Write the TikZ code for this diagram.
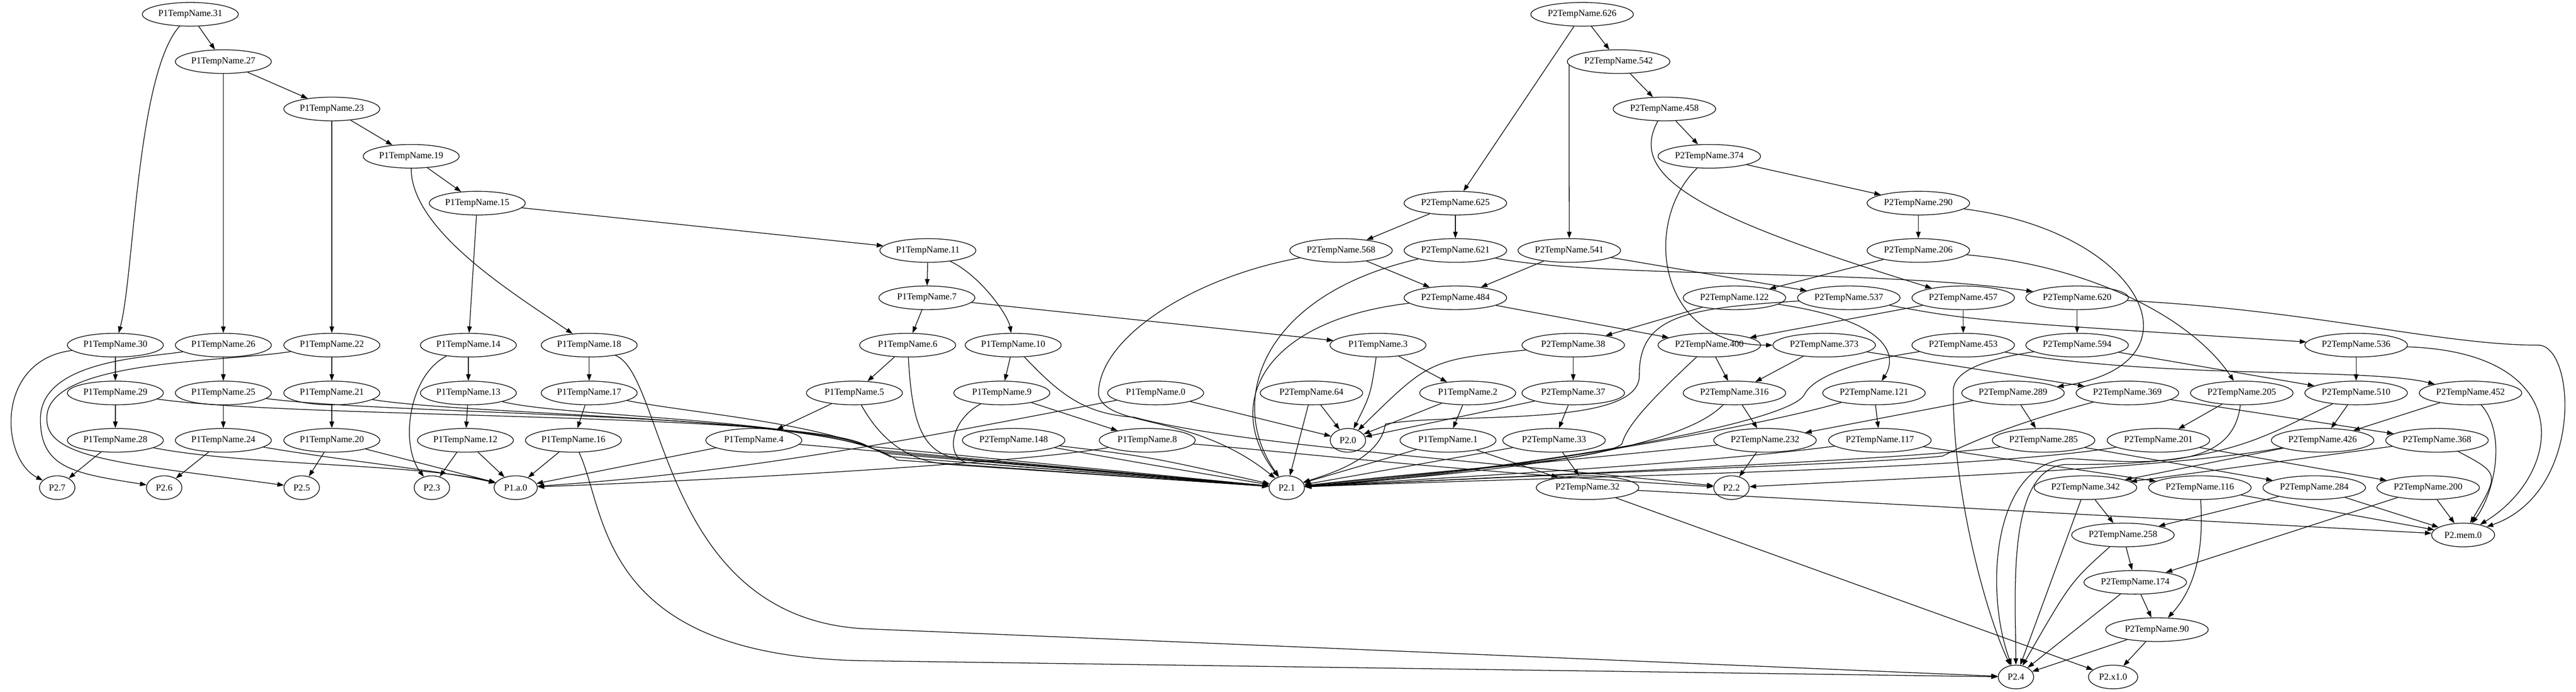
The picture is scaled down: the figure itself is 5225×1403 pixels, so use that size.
\documentclass[tikz,border=0pt]{standalone}
\usepackage{fontspec}
\setmainfont{Liberation Serif}
\usetikzlibrary{shapes.geometric,arrows.meta}
\begin{document}
\begin{tikzpicture}[x=0.75pt,y=-0.75pt,
  base/.style={draw, ellipse, line width=1pt, minimum height=36pt, inner sep=0pt, font=\fontsize{14pt}{16pt}\selectfont},
  n1/.style={base, minimum width=146pt},
  n2/.style={base, minimum width=156pt},
  nc/.style={base, minimum width=54pt},
  e/.style={-{Triangle[length=10pt,width=7pt]}, line width=1pt}]
\fill[white] (0,0) rectangle (5225,1403);
\useasboundingbox (0,0) rectangle (5225,1403);

% ---------- P1 nodes ----------
\node[n1] (a31) at (386,29) {P1TempName.31};
\node[n1] (a27) at (453,125) {P1TempName.27};
\node[n1] (a23) at (673,221) {P1TempName.23};
\node[n1] (a19) at (834,317) {P1TempName.19};
\node[n1] (a15) at (968,412) {P1TempName.15};
\node[n1] (a11) at (1882,508) {P1TempName.11};
\node[n1] (a7) at (1880,604) {P1TempName.7};
\node[n1] (a30) at (234,700) {P1TempName.30};
\node[n1] (a26) at (453,700) {P1TempName.26};
\node[n1] (a22) at (673,700) {P1TempName.22};
\node[n1] (a14) at (950,700) {P1TempName.14};
\node[n1] (a18) at (1195,700) {P1TempName.18};
\node[n1] (a6) at (1841,700) {P1TempName.6};
\node[n1] (a10) at (2055,700) {P1TempName.10};
\node[n1] (a3) at (2795,700) {P1TempName.3};
\node[n1] (a29) at (234,797) {P1TempName.29};
\node[n1] (a25) at (453,797) {P1TempName.25};
\node[n1] (a21) at (673,797) {P1TempName.21};
\node[n1] (a13) at (950,797) {P1TempName.13};
\node[n1] (a17) at (1195,797) {P1TempName.17};
\node[n1] (a5) at (1733,797) {P1TempName.5};
\node[n1] (a9) at (2032,797) {P1TempName.9};
\node[n1] (a0) at (2344,797) {P1TempName.0};
\node[n1] (a2) at (2977,797) {P1TempName.2};
\node[n1] (a28) at (234,893) {P1TempName.28};
\node[n1] (a24) at (453,893) {P1TempName.24};
\node[n1] (a20) at (673,893) {P1TempName.20};
\node[n1] (a12) at (944,893) {P1TempName.12};
\node[n1] (a16) at (1163,893) {P1TempName.16};
\node[n1] (a4) at (1529,893) {P1TempName.4};
\node[n1] (a8) at (2327,893) {P1TempName.8};
\node[n1] (a1) at (2937,893) {P1TempName.1};

% ---------- P2 nodes ----------
\node[n2] (b148) at (2056,893) {P2TempName.148};
\node[n2] (b626) at (3209,29) {P2TempName.626};
\node[n2] (b542) at (3283,125) {P2TempName.542};
\node[n2] (b458) at (3376,221) {P2TempName.458};
\node[n2] (b374) at (3467,317) {P2TempName.374};
\node[n2] (b625) at (2952,412) {P2TempName.625};
\node[n2] (b290) at (3891,412) {P2TempName.290};
\node[n2] (b568) at (2720,508) {P2TempName.568};
\node[n2] (b621) at (2952,508) {P2TempName.621};
\node[n2] (b541) at (3183,508) {P2TempName.541};
\node[n2] (b206) at (3891,508) {P2TempName.206};
\node[n2] (b484) at (2952,604) {P2TempName.484};
\node[n2] (b122) at (3518,604) {P2TempName.122};
\node[n2] (b537) at (3750,604) {P2TempName.537};
\node[n2] (b457) at (3982,604) {P2TempName.457};
\node[n2] (b620) at (4213,604) {P2TempName.620};
\node[n2] (b38) at (3191,700) {P2TempName.38};
\node[n2] (b400) at (3467,700) {P2TempName.400};
\node[n2] (b373) at (3700,700) {P2TempName.373};
\node[n2] (b453) at (3982,700) {P2TempName.453};
\node[n2] (b594) at (4213,700) {P2TempName.594};
\node[n2] (b536) at (4779,700) {P2TempName.536};
\node[n2] (b64) at (2660,797) {P2TempName.64};
\node[n2] (b37) at (3191,797) {P2TempName.37};
\node[n2] (b316) at (3518,797) {P2TempName.316};
\node[n2] (b121) at (3801,797) {P2TempName.121};
\node[n2] (b289) at (4083,797) {P2TempName.289};
\node[n2] (b369) at (4315,797) {P2TempName.369};
\node[n2] (b205) at (4547,797) {P2TempName.205};
\node[n2] (b510) at (4779,797) {P2TempName.510};
\node[n2] (b452) at (5011,797) {P2TempName.452};
\node[n2] (b33) at (3152,893) {P2TempName.33};
\node[n2] (b232) at (3580,893) {P2TempName.232};
\node[n2] (b117) at (3813,893) {P2TempName.117};
\node[n2] (b285) at (4145,893) {P2TempName.285};
\node[n2] (b201) at (4378,893) {P2TempName.201};
\node[n2] (b426) at (4711,893) {P2TempName.426};
\node[n2] (b368) at (4943,893) {P2TempName.368};
\node[n2] (b32) at (3220,989) {P2TempName.32};
\node[n2] (b342) at (4230,989) {P2TempName.342};
\node[n2] (b116) at (4462,989) {P2TempName.116};
\node[n2] (b284) at (4694,989) {P2TempName.284};
\node[n2] (b200) at (4925,989) {P2TempName.200};
\node[n2] (b258) at (4306,1085) {P2TempName.258};
\node[n2] (b174) at (4331,1181) {P2TempName.174};
\node[n2] (b90) at (4375,1277) {P2TempName.90};

% ---------- sinks ----------
\node[nc] (q7) at (116,989) {P2.7};
\node[nc] (q6) at (333,989) {P2.6};
\node[nc] (q5) at (612,989) {P2.5};
\node[nc] (q3) at (876,989) {P2.3};
\node[nc, minimum width=66pt] (qa) at (1046,989) {P1.a.0};
\node[nc] (q1) at (2610,989) {P2.1};
\node[nc] (q0) at (2734,893) {P2.0};
\node[nc] (q2) at (3512,989) {P2.2};
\node[nc, minimum width=96pt] (qm) at (4996,1085) {P2.mem.0};
\node[nc] (q4) at (4089,1373) {P2.4};
\node[nc, minimum width=75pt] (qx) at (4286,1373) {P2.x1.0};

% ---------- way points ----------
\coordinate (w26) at (82,850);
\coordinate (w22) at (95,850);
\coordinate (w18) at (1750,1275);
\coordinate (w16) at (1750,1340);
\coordinate (w29) at (1760,905);
\coordinate (w25) at (1775,912);
\coordinate (w21) at (1790,919);
\coordinate (w17) at (1805,926);
\coordinate (w13) at (1820,933);
\coordinate (w6) at (1940,930);
\coordinate (w5) at (1925,942);
\coordinate (w9) at (1960,938);
\coordinate (w10) at (2300,846);
\coordinate (w568) at (2228,800);
\coordinate (w537a) at (3325,760);
\coordinate (w537b) at (2810,860);
\coordinate (w400) at (3290,900);
\coordinate (w453) at (3660,800);
\coordinate (w369) at (3940,925);
\coordinate (w205) at (4200,930);
\coordinate (w510) at (4190,942);
\coordinate (w594) at (3962,790);
\coordinate (w620) at (5150,700);

% ---------- P1 edges ----------
\draw[e] (a31) -- (a27);
\draw[e] (a31) .. controls (277,150) and (272,560) .. (a30);
\draw[e] (a27) -- (a23);
\draw[e] (a27) -- (a26);
\draw[e] (a23) -- (a19);
\draw[e] (a23) -- (a22);
\draw[e] (a19) -- (a15);
\draw[e] (a19) .. controls (834,470) and (1050,600) .. (a18);
\draw[e] (a15) -- (a11);
\draw[e] (a15) -- (a14);
\draw[e] (a11) -- (a7);
\draw[e] (a11) .. controls (1990,560) and (2045,640) .. (a10);
\draw[e] (a7) -- (a6);
\draw[e] (a7) -- (a3);
\draw[e] (a30) -- (a29);
\draw[e] (a29) -- (a28);
\draw[e] (a26) -- (a25);
\draw[e] (a25) -- (a24);
\draw[e] (a22) -- (a21);
\draw[e] (a21) -- (a20);
\draw[e] (a14) -- (a13);
\draw[e] (a13) -- (a12);
\draw[e] (a18) -- (a17);
\draw[e] (a17) -- (a16);
\draw[e] (a6) -- (a5);
\draw[e] (a5) -- (a4);
\draw[e] (a10) -- (a9);
\draw[e] (a9) -- (a8);
\draw[e] (a3) -- (a2);
\draw[e] (a2) -- (a1);

\draw[e] (a30) .. controls (-10,730) and (0,930) .. (q7);
\draw[e] (a28) -- (q7);
\draw[e] (a26) .. controls (300,725) and (82,730) .. (w26) .. controls (82,950) and (150,960) .. (q6);
\draw[e] (a24) -- (q6);
\draw[e] (a22) .. controls (450,735) and (90,730) .. (w22) .. controls (95,930) and (250,940) .. (q5);
\draw[e] (a20) -- (q5);
\draw[e] (a14) .. controls (830,760) and (810,900) .. (q3);
\draw[e] (a12) -- (q3);
\draw[e] (a28) .. controls (500,945) and (850,940) .. (qa);
\draw[e] (a24) .. controls (700,935) and (900,955) .. (qa);
\draw[e] (a20) -- (qa);
\draw[e] (a12) -- (qa);
\draw[e] (a16) -- (qa);
\draw[e] (a4) -- (qa);
\draw[e] (a0) .. controls (1900,880) and (1550,955) .. (qa);
\draw[e] (a8) .. controls (2100,935) and (1550,970) .. (qa);
\draw[e] (a18) .. controls (1349,760) and (1340,1250) .. (w18) -- (q4);
\draw[e] (a16) .. controls (1232,1040) and (1210,1330) .. (w16) -- (q4);

\draw[e] (a29) .. controls (600,850) and (1650,836) .. (w29) -- (q1);
\draw[e] (a25) .. controls (800,842) and (1650,838) .. (w25) -- (q1);
\draw[e] (a21) .. controls (950,842) and (1660,845) .. (w21) -- (q1);
\draw[e] (a17) .. controls (1400,838) and (1680,858) .. (w17) -- (q1);
\draw[e] (a13) .. controls (1150,848) and (1700,848) .. (w13) -- (q1);
\draw[e] (a6) .. controls (1850,860) and (1870,915) .. (w6) -- (q1);
\draw[e] (a5) .. controls (1780,880) and (1830,935) .. (w5) -- (q1);
\draw[e] (a9) .. controls (1930,850) and (1915,925) .. (w9) -- (q1);
\draw[e] (a4) -- (q1);
\draw[e] (b148) .. controls (2330,926) .. (q1);
\draw[e] (b148) .. controls (2330,942) .. (q1);
\draw[e] (a1) -- (q1);
\draw[e] (a1) -- (b32);
\draw[e] (a10) .. controls (2150,800) and (2200,840) .. (w10) .. controls (2500,900) and (2950,930) .. (q2);
\draw[e] (a8) .. controls (2600,915) and (3000,960) .. (q2);
\draw[e] (a0) -- (q0);
\draw[e] (a3) .. controls (2780,800) .. (q0);
\draw[e] (a2) -- (q0);

% ---------- P2 edges ----------
\draw[e] (b626) -- (b625);
\draw[e] (b626) -- (b542);
\draw[e] (b542.184) -- (b541);
\draw[e] (b542) -- (b458);
\draw[e] (b458) -- (b374);
\draw[e] (b458) .. controls (3300,360) and (3450,440) .. (b457);
\draw[e] (b374) -- (b290);
\draw[e] (b374) .. controls (3330,450) and (3360,700) .. (b373);
\draw[e] (b290) -- (b206);
\draw[e] (b290) .. controls (4350,470) and (4480,740) .. (b289);
\draw[e] (b206) -- (b122);
\draw[e] (b206) .. controls (4250,540) and (4450,650) .. (b205);
\draw[e] (b625) -- (b568);
\draw[e] (b625) -- (b621);
\draw[e] (b568) -- (b484);
\draw[e] (b541) -- (b484);
\draw[e] (b541) -- (b537);
\draw[e] (b621) .. controls (3250,565) and (3800,545) .. (b620);
\draw[e] (b568) .. controls (2430,560) and (2228,680) .. (w568) .. controls (2245,870) and (2420,835) .. (q1);
\draw[e] (b621) .. controls (2550,600) and (2490,820) .. (q1);
\draw[e] (b484) .. controls (2560,650) and (2480,820) .. (q1);
\draw[e] (b484) -- (b400);
\draw[e] (b122) -- (b38);
\draw[e] (b122) .. controls (3830,650) and (3850,720) .. (b121);
\draw[e] (b537) .. controls (4000,650) .. (b536);
\draw[e] (b537) .. controls (3420,625) and (3325,640) .. (w537a) .. controls (3330,870) and (2950,835) .. (w537b) .. controls (2800,930) and (2700,960) .. (q1);
\draw[e] (b457) -- (b453);
\draw[e] (b457) -- (b400);
\draw[e] (b620) -- (b594);
\draw[e] (b620) .. controls (4700,630) and (4950,700) .. (w620) .. controls (5225,705) and (5240,1000) .. (qm);
\draw[e] (b594) .. controls (4050,725) and (3965,745) .. (w594) .. controls (3960,1000) and (4030,1250) .. (q4);
\draw[e] (b594) -- (b510);
\draw[e] (b536) -- (b510);
\draw[e] (b536) .. controls (5230,715) and (5200,960) .. (qm);
\draw[e] (b400) -- (b316);
\draw[e] (b373) -- (b316);
\draw[e] (b400) .. controls (3360,800) and (3300,860) .. (w400) .. controls (3250,935) and (2950,950) .. (q1);
\draw[e] (b373) -- (b369);
\draw[e] (b453) .. controls (3780,730) and (3680,760) .. (w453) .. controls (3630,860) and (3100,950) .. (q1);
\draw[e] (b453) .. controls (4400,770) and (4800,745) .. (b452);
\draw[e] (b316) -- (b232);
\draw[e] (b316) .. controls (3400,920) and (3000,960) .. (q1);
\draw[e] (b121) -- (b117);
\draw[e] (b121) .. controls (3550,870) and (3000,965) .. (q1);
\draw[e] (b289) -- (b285);
\draw[e] (b289) -- (b232);
\draw[e] (b369) -- (b368);
\draw[e] (b369) .. controls (4080,860) and (3990,900) .. (w369) .. controls (3800,940) and (3300,955) .. (q1);
\draw[e] (b205) -- (b201);
\draw[e] (b205) .. controls (4530,940) and (4400,945) .. (w205) .. controls (4040,935) and (4025,1200) .. (q4);
\draw[e] (b510) -- (b426);
\draw[e] (b510) .. controls (4600,880) and (4520,945) .. (w510) .. controls (4070,950) and (4088,1200) .. (q4);
\draw[e] (b452) -- (b426);
\draw[e] (b452) .. controls (5085,880) and (5060,1000) .. (qm);
\draw[e] (b232) -- (q2);
\draw[e] (b232) -- (q1);
\draw[e] (b117) -- (b116);
\draw[e] (b117) .. controls (3450,940) and (3000,965) .. (q1);
\draw[e] (b285) -- (b284);
\draw[e] (b285) .. controls (3900,930) and (3200,960) .. (q1);
\draw[e] (b201) -- (b200);
\draw[e] (b201) .. controls (4000,955) and (3200,965) .. (q1);
\draw[e] (b426) -- (b342);
\draw[e] (b426) .. controls (4400,950) and (3900,968) .. (q2);
\draw[e] (b368) -- (b342);
\draw[e] (b368) .. controls (5070,960) .. (qm);
\draw[e] (b342) -- (b258);
\draw[e] (b342) -- (q4);
\draw[e] (b116) .. controls (4470,1110) and (4455,1190) .. (b90);
\draw[e] (b116) -- (qm);
\draw[e] (b284) -- (b258);
\draw[e] (b284) -- (qm);
\draw[e] (b200) -- (b174);
\draw[e] (b200) -- (qm);
\draw[e] (b258) -- (b174);
\draw[e] (b258) .. controls (4200,1180) .. (q4);
\draw[e] (b174) -- (b90);
\draw[e] (b174) -- (q4);
\draw[e] (b90) -- (q4);
\draw[e] (b90) -- (qx);
\draw[e] (b32) -- (qm);
\draw[e] (b32) -- (qx);
\draw[e] (b33) -- (b32);
\draw[e] (b33) -- (q1);
\draw[e] (b37) -- (b33);
\draw[e] (b37) -- (q0);
\draw[e] (b38) -- (b37);
\draw[e] (b38) .. controls (2900,730) .. (q0);
\draw[e] (b64) -- (q0);
\draw[e] (b64) -- (q1);
\end{tikzpicture}
\end{document}
